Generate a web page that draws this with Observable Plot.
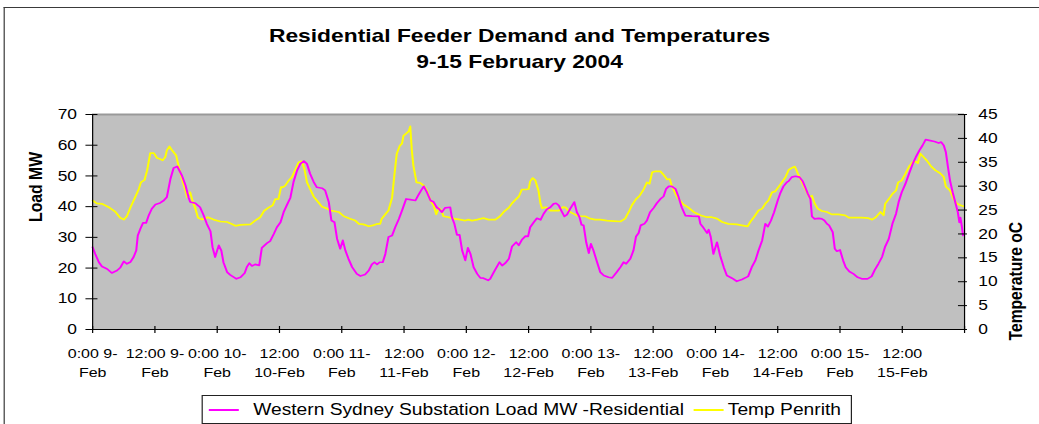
<!DOCTYPE html>
<html>
<head>
<meta charset="utf-8">
<script src="https://cdn.jsdelivr.net/npm/d3@7"></script>
<script src="https://cdn.jsdelivr.net/npm/@observablehq/plot@0.6"></script>
<style>
html, body { margin: 0; padding: 0; background: #fff; overflow: hidden; }
#stage { position: absolute; left: 0; top: 0; width: 866px; height: 424px; transform-origin: 0 0; transform: scaleX(1.2); font-family: "Liberation Sans", Arial, sans-serif; color: #000; }
#border { position: absolute; left: 3px; top: 7px; width: 900px; height: 500px; border-left: 1.6px solid #3a3a3a; border-top: 1.6px solid #3a3a3a; }
#title { position: absolute; left: 0; top: 23px; width: 866px; text-align: center; font-weight: bold; font-size: 19px; line-height: 26px; }
#chart { position: absolute; left: 0; top: 80px; }
#legend { position: absolute; left: 168px; top: 395px; width: 542px; height: 29px; border: 1px solid #222; box-sizing: border-box; display: flex; align-items: center; font-size: 16px; white-space: nowrap; }
.sw { display: inline-block; flex: none; width: 25px; height: 2px; }
</style>
</head>
<body>
<div id="stage">
  <div id="border"></div>
  <div id="title"></div>
  <div id="chart"></div>
  <div id="legend"></div>
</div>
<script>
// ---- text ----
const titleLines = ["Residential Feeder Demand and Temperatures", "9-15 February 2004"];
const loadTitle = "Load MW";
const tempTitle = "Temperature oC";
const seriesNames = ["Western Sydney Substation Load MW -Residential", "Temp Penrith"];
const seriesColors = ["#ff00ff", "#ffff00"];

// ---- axes ----
const loadTicks = [0, 10, 20, 30, 40, 50, 60, 70];
const tempTicks = [0, 5, 10, 15, 20, 25, 30, 35, 40, 45];
const xTickHours = [0, 12, 24, 36, 48, 60, 72, 84, 96, 108, 120, 132, 144, 156, 168];
const xTickLabels = ["0:00 9-\nFeb", "12:00 9-\nFeb", "0:00 10-\nFeb", "12:00\n10-Feb", "0:00 11-\nFeb", "12:00\n11-Feb",
  "0:00 12-\nFeb", "12:00\n12-Feb", "0:00 13-\nFeb", "12:00\n13-Feb", "0:00 14-\nFeb", "12:00\n14-Feb",
  "0:00 15-\nFeb", "12:00\n15-Feb", ""];

// ---- series: hours since 0:00 9-Feb ----
const loadHours = [0,0.5,1.2,1.8,2.8,3.7,4.7,5.3,6.0,6.6,7.3,7.9,8.4,8.7,9.2,9.7,10.3,10.8,11.4,12.1,13.0,13.7,14.3,15.0,15.6,16.3,16.7,17.2,17.9,18.5,18.8,19.8,20.7,21.4,22.0,22.7,23.1,23.6,24.3,24.8,25.2,25.9,26.5,27.7,28.5,29.3,29.7,30.2,30.7,31.3,32.1,32.6,
33.6,34.2,34.9,35.5,36.2,36.8,37.4,38.1,38.7,39.4,40.0,40.7,41.3,41.9,42.6,43.2,44.2,44.8,45.5,46.0,46.6,47.1,47.7,48.2,48.7,49.3,50.0,50.9,51.6,52.5,53.2,53.8,54.3,54.8,55.3,55.9,56.4,57.0,57.7,58.3,59.0,59.6,60.4,61.2,62.2,62.7,63.3,63.8,64.4,65.1,65.7,66.3,
66.7,67.3,67.9,68.9,69.2,69.7,70.2,70.7,71.2,71.8,72.3,72.8,73.4,74.1,74.7,75.3,76.2,76.6,77.3,77.9,78.4,78.9,79.5,80.2,80.8,81.6,82.1,82.7,83.4,83.9,84.3,85.0,85.6,86.3,86.9,87.5,88.2,88.8,89.3,89.8,90.3,90.9,91.4,92.0,92.8,93.3,93.8,94.2,94.6,95.1,95.6,96.0,96.5,97.2,97.8,98.5,99.4,100.1,
101.0,101.7,102.3,102.8,103.6,104.2,104.7,105.2,105.6,106.3,106.8,107.4,108.1,108.7,109.4,110.0,110.5,111.0,111.6,112.3,112.9,113.5,114.2,115.5,116.8,117.1,117.7,118.4,118.7,119.1,119.6,120.3,120.9,121.6,122.2,123.2,124.1,125.1,126.3,127.0,127.7,128.3,129.0,129.6,130.1,130.7,131.3,132.0,132.5,133.1,133.8,
134.1,134.7,135.4,136.2,136.8,137.3,137.8,138.3,138.6,139.1,139.9,140.5,141.0,141.5,141.9,142.6,143.0,143.4,144.0,144.6,145.1,145.8,146.6,147.4,148.2,149.3,150.1,150.7,151.4,152.1,152.7,153.4,154.1,154.8,155.3,155.9,156.6,157.3,158.0,158.6,159.3,159.9,160.5,161.4,162.2,163.0,163.5,164.0,164.4,164.8,165.2,165.7,166.2,166.7,167.0,167.2,167.5,167.7];
const loadMW = [26.8,24.6,21.9,20.5,19.7,18.4,19.2,20.1,22.2,21.4,22.0,23.6,25.7,30.6,32.8,34.7,34.7,37.1,39.3,40.7,41.2,42.0,43.1,49.1,52.6,53.1,51.8,50.1,46.9,42.9,41.5,41.1,39.8,37.1,34.4,32.0,26.8,23.6,27.4,25.7,21.9,18.7,17.8,16.5,17.0,18.4,20.3,21.6,20.7,21.2,20.9,26.6,
28.1,28.8,31.1,33.3,34.9,38.2,40.4,42.9,48.0,51.8,53.9,54.8,53.9,50.7,48.0,46.3,46.0,45.3,41.5,35.5,34.9,29.5,26.3,29.0,25.7,23.0,20.3,18.1,17.4,17.9,19.2,21.2,21.9,21.2,21.9,21.9,24.6,30.1,30.6,33.3,36.0,38.7,42.5,42.3,42.0,43.6,45.3,46.6,44.7,42.0,41.5,39.8,
39.3,38.2,39.6,39.8,36.6,34.4,30.8,30.8,25.7,22.5,26.6,24.6,20.3,18.1,16.8,16.7,16.0,16.5,18.7,20.5,21.9,20.8,21.6,23.0,27.0,28.4,27.4,29.2,30.4,30.3,33.3,34.9,36.2,35.7,37.7,39.1,39.8,40.9,41.1,40.4,38.7,36.8,37.4,39.3,41.5,38.2,36.6,34.1,33.9,28.4,24.9,27.9,25.7,21.9,18.7,17.6,17.0,16.8,
18.7,20.3,21.9,21.4,23.0,25.7,30.3,31.4,33.9,34.4,35.5,38.2,39.6,41.1,42.5,43.3,45.8,46.6,46.6,45.8,43.1,39.8,37.1,36.9,36.8,34.4,33.1,31.4,32.5,30.1,24.6,28.4,24.1,20.3,17.6,16.7,15.7,16.3,17.3,20.3,22.5,25.7,29.0,34.4,33.5,35.5,38.2,42.0,44.4,46.6,48.0,
48.3,49.6,49.9,49.6,48.3,46.3,44.2,42.5,36.8,36.0,36.2,36.0,35.5,34.4,33.9,31.7,26.3,25.5,25.9,22.5,20.3,18.9,18.1,17.0,16.5,16.5,17.3,19.4,21.4,23.6,27.0,29.5,34.4,37.7,41.5,44.7,47.4,50.7,53.9,56.1,58.3,59.9,61.8,61.5,61.2,60.7,61.0,59.9,57.7,52.9,48.5,44.7,41.5,38.2,34.9,36.4,33.3,30.6];

const tempHours = [0,0.8,1.8,3.1,4.4,5.3,6.0,6.6,7.3,8.2,8.9,9.3,10.0,10.5,11.1,11.8,12.4,13.0,13.5,14.0,14.3,14.8,15.3,16.1,16.6,17.3,17.9,18.2,18.5,18.8,19.3,19.8,20.3,21.1,22.2,23.3,24.6,25.9,26.8,27.5,28.5,30.4,31.3,32.3,
33.0,33.9,34.7,35.2,35.8,36.3,36.7,37.1,37.8,38.4,39.1,39.7,40.3,40.8,41.3,41.9,42.6,43.2,44.2,45.2,45.8,47.4,48.4,49.6,50.6,51.3,52.2,53.2,54.0,54.8,55.4,55.7,56.4,57.0,57.7,58.1,58.6,59.2,59.6,59.9,60.4,60.9,61.2,61.5,61.8,62.4,63.1,63.8,64.4,65.1,65.7,66.2,
66.7,67.2,67.6,68.6,69.6,70.8,71.8,72.4,73.1,74.1,75.3,76.3,77.6,78.5,79.2,80.2,80.8,81.6,82.1,82.7,83.5,84.0,84.3,84.8,85.3,85.9,86.3,86.6,87.3,88.2,89.8,90.6,91.2,91.8,92.7,93.6,94.9,95.9,96.8,97.8,99.1,100.4,
101.7,102.6,103.3,103.9,104.7,105.4,106.2,106.8,107.3,107.8,108.4,109.4,110.0,110.7,111.2,111.6,112.3,112.9,113.9,114.8,115.8,117.1,118.4,119.3,120.3,121.3,122.5,124.1,125.1,126.2,126.7,127.4,128.3,129.0,129.6,130.2,130.9,131.5,132.2,132.8,133.5,
134.1,134.7,135.3,135.9,136.7,137.3,138.1,138.6,139.1,139.7,140.5,141.5,142.4,143.7,145.0,145.7,148.2,149.5,150.2,150.9,151.8,152.4,152.7,153.4,154.1,154.8,155.2,155.9,156.6,157.3,158.0,158.5,159.0,159.5,160.1,160.7,161.6,162.4,163.3,164.0,164.4,165.2,165.9,166.5,167.2,167.8];
const tempC = [27.0,26.4,26.3,25.6,24.6,23.4,23.0,23.7,25.6,27.7,29.4,30.8,31.3,33.3,36.9,36.9,35.9,35.7,35.4,36.1,37.5,38.3,37.5,36.4,34.0,31.2,29.1,27.7,28.4,28.7,26.7,25.3,23.4,23.0,23.5,23.0,22.6,22.5,22.1,21.7,21.9,22.0,22.8,23.5,
24.8,25.5,26.0,27.3,27.3,29.8,29.8,30.1,31.2,31.9,33.6,35.0,35.2,33.6,30.8,29.4,27.8,27.0,25.7,25.3,24.9,24.6,23.7,23.2,22.8,22.1,22.0,21.6,21.8,22.1,22.1,23.2,24.1,24.9,27.6,31.9,36.8,38.5,38.9,40.6,41.0,41.5,42.5,37.5,34.3,30.8,30.7,30.1,29.1,27.0,26.0,24.1,
25.5,24.9,23.7,23.5,23.2,23.0,22.8,23.0,22.8,23.0,23.3,23.0,23.0,23.7,24.6,25.5,26.4,27.3,27.8,29.3,29.3,29.4,31.0,31.7,31.2,29.1,26.3,25.4,25.6,24.9,24.9,25.6,25.5,24.7,24.2,23.7,23.7,23.2,23.0,23.0,22.8,22.7,
22.6,23.2,24.6,26.0,27.3,28.0,29.4,30.8,30.5,32.9,33.1,33.1,32.4,31.4,31.5,30.1,28.4,27.3,26.1,25.5,24.6,23.9,23.5,23.5,23.2,22.5,22.1,22.0,21.8,21.6,22.5,23.5,24.9,25.3,26.3,27.0,28.7,28.9,29.9,30.8,31.9,
33.4,33.8,34.1,32.6,30.8,29.4,27.7,28.0,26.4,25.3,24.8,24.6,24.1,24.1,23.9,23.4,23.4,23.3,23.0,23.5,24.6,23.9,26.3,27.3,28.4,29.1,30.8,31.2,32.6,34.1,35.0,35.2,34.8,36.8,36.1,35.4,34.1,33.3,32.7,31.9,29.9,29.1,27.3,26.4,26.0,25.8];

// ---- build ----
const loadMax = loadTicks[loadTicks.length - 1];
const tempMax = tempTicks[tempTicks.length - 1];
const k = loadMax / tempMax; // temperature -> load-axis units (secondary axis)
const xMax = xTickHours[xTickHours.length - 1];

const load = loadHours.map((h, i) => ({h, v: loadMW[i]}));
const temp = tempHours.map((h, i) => ({h, v: tempC[i] * k}));

const font = '"Liberation Sans", Arial, sans-serif';

const chart = Plot.plot({
  width: 866,
  height: 310,
  marginTop: 34,
  marginBottom: 61,
  marginLeft: 76.7,
  marginRight: 62.7,
  x: {domain: [0, xMax], axis: null},
  y: {domain: [0, loadMax], axis: null},
  style: {fontFamily: font, fontSize: "14.5px", background: "transparent", overflow: "visible", color: "#000"},
  marks: [
    Plot.frame({fill: "#c0c0c0", stroke: "none"}),
    Plot.ruleY([loadMax], {stroke: "#999999", strokeWidth: 2}),
    Plot.line(temp, {x: "h", y: "v", stroke: seriesColors[1], strokeWidth: 1.7}),
    Plot.line(load, {x: "h", y: "v", stroke: seriesColors[0], strokeWidth: 1.7}),
    Plot.ruleX([0, xMax], {stroke: "#000"}),
    Plot.ruleY([0], {stroke: "#000"}),
    Plot.ruleY(loadTicks, {y: d => d, x1: 0, x2: 0, insetLeft: -5.5, insetRight: -4.5, stroke: "#000"}),
    Plot.ruleY(tempTicks, {y: d => d * k, x1: xMax, x2: xMax, insetLeft: -5, insetRight: -2.5, stroke: "#000"}),
    Plot.ruleX(xTickHours, {x: d => d, y1: 0, y2: 0, insetTop: -3, insetBottom: -4, stroke: "#000"}),
    Plot.text(loadTicks, {y: d => d, frameAnchor: "left", textAnchor: "end", dx: -13, text: d => String(d), fontSize: 14.5}),
    Plot.text(tempTicks, {y: d => d * k, frameAnchor: "right", textAnchor: "start", dx: 11.4, text: d => String(d), fontSize: 14.5}),
    Plot.text(xTickHours, {x: d => d, frameAnchor: "bottom", lineAnchor: "top", dy: 15, lineHeight: 1.41, text: (d, i) => xTickLabels[i], fontSize: 13.3}),
    Plot.text([loadTitle], {frameAnchor: "left", rotate: -90, dx: -47.5, text: d => d, fontWeight: "bold", fontSize: 15.8}),
    Plot.text([tempTitle], {frameAnchor: "right", rotate: -90, dx: 42.5, text: d => d, fontWeight: "bold", fontSize: 15.6})
  ]
});
document.getElementById("chart").appendChild(chart);

// title
const t = document.getElementById("title");
titleLines.forEach(s => { const d = document.createElement("div"); d.textContent = s; t.appendChild(d); });

// legend
const lg = document.getElementById("legend");
const margins = [[5, 12], [8, 3.5]];
seriesNames.forEach((name, i) => {
  const sw = document.createElement("span");
  sw.className = "sw";
  sw.style.background = seriesColors[i];
  sw.style.marginLeft = margins[i][0] + "px";
  sw.style.marginRight = margins[i][1] + "px";
  const tx = document.createElement("span");
  tx.textContent = name;
  lg.appendChild(sw);
  lg.appendChild(tx);
});
</script>
</body>
</html>
